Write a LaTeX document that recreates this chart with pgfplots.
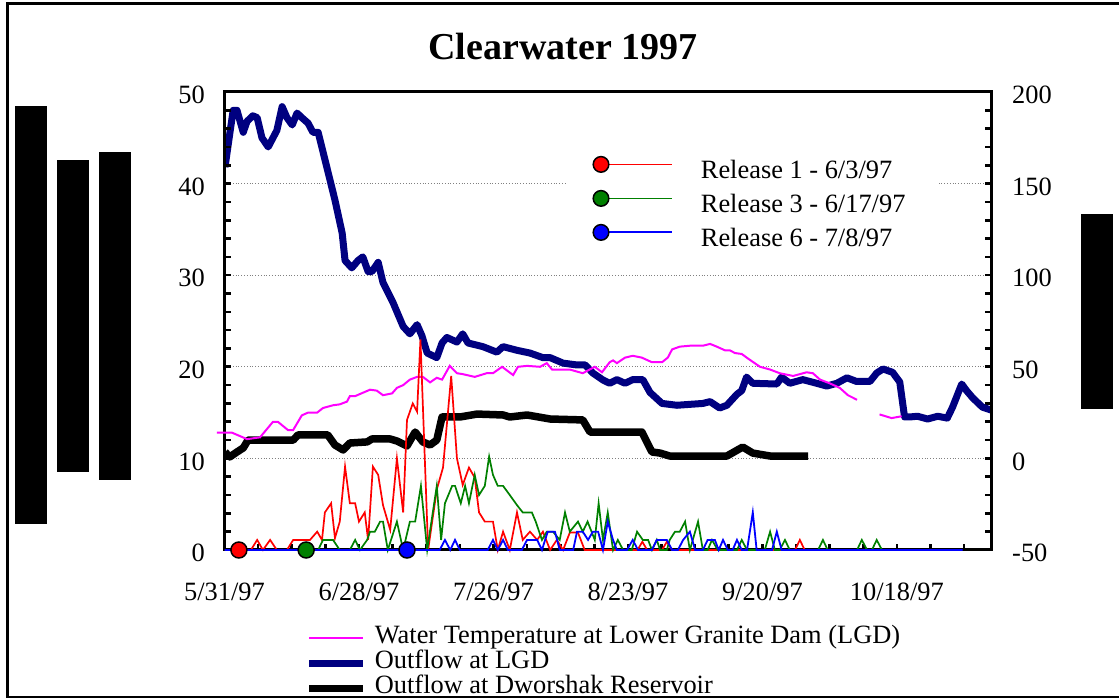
\documentclass[border=0pt]{standalone}
\usepackage{fontspec}
\setmainfont{Liberation Serif}
\usepackage{pgfplots}
\pgfplotsset{compat=1.18}
\definecolor{navyline}{RGB}{0,0,128}
\definecolor{greenline}{RGB}{0,128,0}
\definecolor{magline}{RGB}{255,0,255}
\newcommand{\chartfont}{\fontsize{13.2bp}{15bp}\selectfont}
\pgfplotsset{
  common/.style={
    at={(112.25bp,74bp)}, anchor=south west, scale only axis,
    width=383.25bp, height=229bp,
    xmin=0, xmax=159.6,
    tick align=inside,
    major tick length=3bp, minor tick length=3bp,
    every tick/.style={black, line width=1.3bp},
    axis line style={line width=1.5bp},
    tick label style={font=\chartfont},
    /pgf/number format/assume math mode=true,
  }
}
\begin{document}
\chartfont
\begin{tikzpicture}
\useasboundingbox (0,0) rectangle (559.5bp,349bp);
% frame and blocks
\draw[line width=1.5bp] (3.5bp,0.5bp) rectangle (570bp,347bp);
\fill[black] (7.5bp,87bp) rectangle (23.5bp,296bp);
\fill[black] (28.5bp,113bp) rectangle (44.5bp,269bp);
\fill[black] (49.5bp,109bp) rectangle (65.5bp,273bp);
\fill[black] (540.5bp,144.5bp) rectangle (556.5bp,242bp);
\node[font=\fontsize{19bp}{22bp}\selectfont\bfseries] at (281.5bp,325.5bp) {Clearwater 1997};

% right axis: outflows
\begin{axis}[common,
  hide x axis,
  axis y line*=right,
  ymin=-50, ymax=200,
  ytick={-50,0,50,100,150,200},
  minor y tick num=4,
  ymajorgrids,
  major grid style={gray, densely dotted, line width=0.5bp},
  yticklabel style={xshift=6bp, yshift=-1.5bp},
  legend style={at={(0.105,-0.165)}, anchor=north west, draw=none, fill=none,
    inner sep=0pt, row sep=0pt, font=\chartfont,
    nodes={inner xsep=2bp, inner ysep=0pt, text height=9bp, text depth=3.5bp}},
  legend cell align=left,
  legend image code/.code={\draw[#1] (0bp,0bp) -- (27bp,0bp); \path (29bp,0bp);},
]
\addlegendimage{magline, line width=1bp}
\addlegendentry{Water Temperature at Lower Granite Dam (LGD)}
\addplot[navyline, line width=3.5bp, line join=round] coordinates {
(0.1,159) (1.8,190) (2.6,190) (3.9,178) (4.7,184) (5.9,187) (6.8,186) (7.8,175) (9.1,170) (10.9,179) (12.0,192) (13.0,186) (14.1,182) (15.1,188.5) (16.1,186) (17.4,183) (18.4,178) (19.5,178) (21.3,159) (23.0,141) (24.5,123) (25.1,108) (26.5,104) (27.8,108) (28.8,110) (29.9,102) (30.7,102) (32.0,107) (33.0,96) (35.1,85) (37.2,72) (38.6,68) (40.1,73) (41.1,67) (42.2,57.5) (44.2,55) (45.3,63) (46.3,66) (48.4,63.5) (49.6,68) (50.7,63) (53.8,61) (56.7,58) (58.0,61) (60.9,59) (63.6,57.5) (66.3,55) (67.8,55) (70.5,52) (73.4,51) (75.1,51) (76.7,46.6) (78.8,42.8) (80.2,41) (81.7,43) (83.4,41) (85.0,43) (87.1,43) (88.6,36) (91.1,30) (94.2,29) (99.6,30) (101.1,31) (103.1,27.5) (104.6,29) (106.7,35) (107.7,37) (108.7,44.4) (110.0,41) (115.0,40.6) (116.0,44.4) (117.7,41) (120.4,43) (123.3,41) (125.4,39.5) (127.5,41) (129.6,44) (131.6,42) (134.4,42) (135.8,46.6) (137.1,48.8) (139.1,47) (140.6,41.7) (141.6,22.6) (142.6,22.6) (144.3,23) (146.4,21.5) (148.5,23) (150.5,22) (151.6,28) (153.5,40.6) (154.5,37) (155.8,33) (157.8,28) (159.6,26.4)
};
\addlegendentry{Outflow at LGD}
\addplot[black, line width=3.75bp, line join=round] coordinates {
(0.1,3.5) (1.1,0.8) (2.6,3.5) (3.9,5.7) (4.9,10) (14.3,10) (15.3,12.8) (21.5,12.8) (23.0,7.3) (24.7,4.6) (26.1,8.4) (29.7,9.0) (30.7,10.6) (34.5,10.6) (35.9,9.5) (38.0,6.8) (39.7,14.4) (41.3,9.0) (42.8,7.3) (44.2,10) (45.3,22.6) (49.0,22.6) (52.6,24.2) (58.0,23.7) (59.4,22.6) (63.0,23.7) (67.8,21.5) (74.6,21.0) (76.1,14.4) (86.9,14.4) (89.0,3.5) (90.7,2.9) (92.7,1.3) (99.0,1.3) (104.6,1.3) (107.9,6.2) (110.0,2.9) (113.6,1.3) (121.5,1.3)
};
\addlegendentry{Outflow at Dworshak Reservoir}
\end{axis}

% left axis: temperature and releases
\begin{axis}[common,
  clip=false,
  ymin=0, ymax=50,
  ytick={0,10,...,50},
  minor y tick num=4,
  ytick pos=left, xtick pos=bottom,
  xtick={0,28,56,84,112,140},
  xticklabels={5/31/97,6/28/97,7/26/97,8/23/97,9/20/97,10/18/97},
  minor xtick={7,14,21,35,42,49,63,70,77,91,98,105,119,126,133,147,154},
  xticklabel style={yshift=-12bp},
  yticklabel style={xshift=-5.3bp, yshift=-1.5bp},
  legend style={at={(0.4456,0.893)}, anchor=north west, fill=white, draw=none,
    inner xsep=13bp, inner ysep=7bp, row sep=0pt, font=\chartfont,
    nodes={inner xsep=4bp, inner ysep=2bp, text height=9.5bp, text depth=3.5bp}},
  legend cell align=left,
  legend image code/.code={
    \draw[#1] (0bp,4bp) -- (35.5bp,4bp);
    \filldraw[#1, draw=black, line width=0.75bp] (0bp,4bp) circle (3.9bp);
    \path (45.5bp,0bp);
  },
]
\addplot[magline, line width=1bp, forget plot] coordinates {
(-1.6,12.8) (1.6,12.8) (4.7,12.1) (7.4,12.3) (10.1,14.0) (11.1,14.0) (13.2,13.1) (14.3,13.1) (16.1,14.7) (17.4,15.0) (19.3,15.0) (20.5,15.5) (22.6,15.8) (24.0,15.9) (25.5,16.2) (26.1,16.8) (27.2,16.8) (30.3,17.5) (31.7,17.4) (33.0,16.9) (34.9,17.1) (35.9,17.7) (37.2,18.0) (38.6,18.6) (40.1,18.9) (41.3,18.9) (42.8,18.3) (44.2,18.8) (45.3,18.6) (46.9,20.1) (48.4,19.3) (49.6,19.2) (52.1,18.9) (54.6,19.3) (55.9,19.3) (57.8,20.0) (60.1,19.1) (61.1,20.0) (63.0,20.1) (65.7,20.0) (67.1,20.4) (68.2,19.7) (71.9,19.7) (74.6,19.3) (77.1,20.0) (78.6,19.4) (80.2,20.5) (80.9,20.7) (81.7,20.4) (83.4,21.0) (85.0,21.2) (86.9,21.0) (89.0,20.5) (91.1,20.5) (92.3,21.0) (93.2,21.9) (94.8,22.2) (96.9,22.3) (99.6,22.3) (101.1,22.5) (102.5,22.2) (104.2,21.8) (105.2,21.8) (106.3,21.5) (107.7,21.4) (109.0,20.9) (111.5,20.0) (113.6,19.7) (115.6,19.3) (118.4,19.0) (121.2,19.4) (122.5,19.3) (124.0,18.6) (126.0,18.2) (128.1,17.7) (129.8,16.9) (131.7,16.4)
};
\addplot[magline, line width=1bp, forget plot] coordinates {
(136.4,14.8) (138.9,14.4) (141.0,14.6)
};
\addplot[red, line width=0.85bp] coordinates {
(0.1,0) (3,0) (5.5,0) (6.8,1.1) (8.0,0) (9.5,1.1) (10.9,0) (13,0) (14.3,1.1) (15.7,1.1) (17.8,1.1) (19.3,2.0) (20.3,1.1) (20.9,4.1) (22.2,5.1) (23.0,1.3) (24.0,3.1) (25.1,9.1) (26.1,5.1) (27.2,5.1) (28.0,3.1) (29.2,4.1) (29.9,1.1) (30.9,9.1) (32.0,8.2) (33.0,4.9) (34.5,2.2) (35.9,10.0) (37.2,4.1) (38.0,14.2) (39.2,16.0) (40.1,15.1) (40.8,23.0) (42.4,0) (44.2,6.6) (45.5,9.0) (47.2,19.0) (48.4,10.0) (49.6,7.1) (50.9,9.0) (52.1,7.9) (53.0,4.1) (54.2,3.1) (55.9,3.1) (56.9,0) (58.0,2.0) (59.4,0) (60.9,4.1) (62.1,1.1) (63.6,2.0) (65.1,1.1) (66.3,2.0) (67.8,0) (69.2,1.1) (70.5,0) (71.9,1.9) (73.6,1.9) (75.0,0) (86.0,0) (87.0,0.9) (88.0,0) (91.1,0) (92.1,0.9) (93.2,0) (118.8,0) (119.8,1.1) (120.8,0)
};
\addlegendentry{Release 1 - 6/3/97}
\addplot[greenline, line width=0.85bp] coordinates {
(17,0) (19.5,0) (20.5,1.1) (22.6,1.1) (24.0,0) (26.1,0) (27.2,1.1) (28.2,0) (29.7,1.1) (30.3,2.0) (31.3,2.0) (32.4,3.1) (33.0,3.1) (34.0,0) (35.9,3.1) (37.2,0) (38.6,3.1) (39.7,3.1) (40.9,7.0) (42.2,0) (44.2,7.0) (45.1,1.1) (45.9,5.1) (47.4,7.0) (48.0,7.0) (49.2,5.1) (50.1,7.0) (50.9,5.1) (52.1,8.2) (53.0,6.0) (54.2,7.0) (55.1,10.2) (55.9,8.2) (56.9,7.0) (58.0,7.0) (59.4,6.0) (60.9,4.9) (62.1,4.1) (64.0,4.1) (64.8,3.1) (66.1,1.1) (67.1,2.0) (68.4,2.0) (69.8,1.1) (70.9,4.1) (71.9,2.0) (73.6,3.1) (74.6,2.0) (75.6,3.1) (77.1,1.1) (77.9,5.1) (78.8,1.1) (79.8,4.1) (80.9,0) (81.9,1.1) (83.0,0) (84.8,0) (85.9,2.0) (87.1,1.1) (88.2,1.1) (89.0,0) (90.0,1.1) (90.7,0) (92.1,0) (92.7,1.1) (93.8,2.0) (94.8,2.0) (95.9,3.1) (96.9,0) (98.6,3.1) (99.6,0) (100.6,0) (101.5,1.1) (102.7,0) (106.7,0) (107.7,1.1) (108.8,0) (112.5,0) (113.6,2.0) (114.6,0) (115.6,0) (116.7,1.1) (117.7,0) (123.6,0) (124.6,1.1) (125.6,0) (131.7,0) (132.7,1.1) (133.8,0) (134.8,0) (135.8,1.1) (136.9,0)
};
\addlegendentry{Release 3 - 6/17/97}
\addplot[blue, line width=0.9bp] coordinates {
(0,0) (44.8,0) (45.9,1.1) (47.0,0) (48.0,1.1) (49.0,0) (54.8,0) (55.9,1.1) (56.9,0) (58.0,1.1) (59.0,0) (61.9,0) (63.0,1.1) (65.1,1.1) (66.1,0) (67.3,2.0) (68.8,2.0) (69.8,0) (72.6,0) (73.4,2.0) (74.6,2.0) (75.7,1.1) (76.7,2.0) (77.8,2.0) (78.8,0) (79.8,3.1) (80.9,1.1) (81.7,0) (83.8,0) (85.0,1.1) (86.1,0) (89.0,0) (90.0,1.1) (92.1,1.1) (93.2,0) (94.4,0) (95.5,1.1) (96.9,2.0) (98.0,0) (99.6,0) (100.6,1.1) (102.1,1.1) (102.9,0) (103.8,1.1) (104.8,0) (105.8,0) (106.7,1.1) (107.7,0) (108.8,0) (110.0,4.1) (110.8,0) (114.0,0) (115.0,2.0) (116.0,0) (153.7,0)
};
\addlegendentry{Release 6 - 7/8/97}
\addplot[only marks, mark=*, mark size=4bp, mark options={fill=red, draw=black, line width=0.75bp}, forget plot] coordinates {(3,0)};
\addplot[only marks, mark=*, mark size=4bp, mark options={fill=greenline, draw=black, line width=0.75bp}, forget plot] coordinates {(17,0)};
\addplot[only marks, mark=*, mark size=4bp, mark options={fill=blue, draw=black, line width=0.75bp}, forget plot] coordinates {(38,0)};
\end{axis}
\end{tikzpicture}
\end{document}
